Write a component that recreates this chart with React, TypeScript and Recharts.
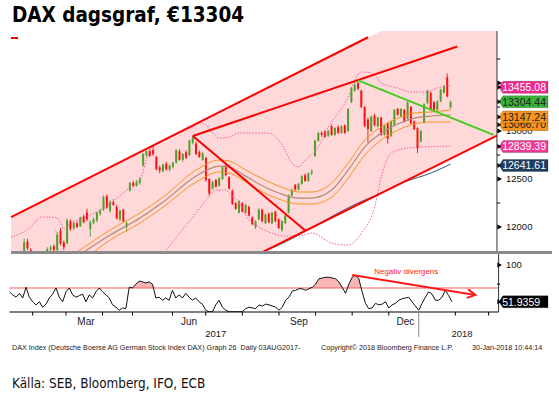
import React from 'react';
import { ComposedChart, Bar, Line, Area, XAxis, YAxis, ReferenceLine } from 'recharts';

// one slot = two trading days, 148 slots across the plot (data fills the first 134)
const SLOTS = 148;
const Y_MIN = 11740;
const Y_MAX = 14042;
const RSI_MIN = 38.7;
const RSI_MAX = 114.3;

// [open, high, low, close] per slot, Jan 2017 -> 30 Jan 2018
const candles: [number, number, number, number][] = [
  [11590, 11620, 11560, 11600], [11600, 11640, 11570, 11620], [11620, 11660, 11580, 11600], [11600, 11700, 11590, 11690],
  [11720, 11880, 11700, 11840], [11850, 11880, 11760, 11780], [11760, 11780, 11680, 11700], [11700, 11720, 11640, 11660],
  [11660, 11700, 11600, 11680], [11680, 11730, 11650, 11710], [11710, 11740, 11670, 11700], [11700, 11790, 11690, 11770],
  [11770, 11810, 11740, 11790], [11800, 11820, 11740, 11760], [11760, 11950, 11750, 11920], [11960, 11990, 11810, 11830],
  [11840, 11860, 11760, 11790], [11830, 12090, 11820, 12070], [12060, 12080, 11960, 11980], [11990, 12060, 11970, 12040],
  [12040, 12060, 11990, 12000], [12010, 12110, 12000, 12100], [12110, 12130, 12040, 12050], [12150, 12190, 12060, 12080],
  [11980, 12070, 11900, 12050], [12040, 12100, 12030, 12080], [12070, 12160, 12050, 12150], [12140, 12190, 12120, 12170],
  [12180, 12330, 12170, 12310], [12320, 12340, 12190, 12200], [12170, 12280, 12150, 12260], [12260, 12290, 12220, 12230],
  [12210, 12230, 12080, 12090], [12080, 12180, 12060, 12170], [12180, 12190, 12050, 12060], [12000, 12060, 11950, 12040],
  [12380, 12470, 12370, 12460], [12460, 12480, 12420, 12430], [12430, 12490, 12420, 12470], [12460, 12520, 12440, 12500],
  [12640, 12770, 12630, 12760], [12750, 12800, 12730, 12790], [12790, 12810, 12730, 12740], [12800, 12850, 12740, 12760],
  [12730, 12740, 12590, 12600], [12620, 12640, 12560, 12590], [12580, 12660, 12570, 12650], [12660, 12680, 12590, 12600],
  [12600, 12650, 12580, 12640], [12630, 12680, 12610, 12670], [12670, 12810, 12660, 12800], [12790, 12810, 12690, 12700],
  [12700, 12770, 12680, 12760], [12780, 12800, 12710, 12720], [12750, 12910, 12740, 12900], [12880, 12950, 12860, 12930],
  [12870, 12890, 12750, 12760], [12780, 12800, 12720, 12730], [12700, 12780, 12690, 12770], [12720, 12730, 12470, 12490],
  [12500, 12510, 12320, 12350], [12400, 12480, 12390, 12470], [12490, 12500, 12410, 12420], [12430, 12520, 12420, 12510],
  [12500, 12630, 12490, 12620], [12640, 12660, 12530, 12540], [12520, 12530, 12390, 12400], [12380, 12390, 12230, 12240],
  [12250, 12260, 12180, 12190], [12150, 12280, 12140, 12270], [12250, 12260, 12150, 12160], [12150, 12240, 12140, 12230],
  [12210, 12220, 12110, 12120], [12100, 12110, 12020, 12030], [12000, 12070, 11980, 12060], [12080, 12200, 12070, 12180],
  [12180, 12190, 12050, 12060], [12040, 12140, 12030, 12130], [12140, 12150, 12040, 12050], [12040, 12160, 12030, 12150],
  [12160, 12170, 12050, 12060], [12080, 12090, 11980, 11990], [11970, 12070, 11950, 12060], [12040, 12130, 12030, 12120],
  [12150, 12340, 12140, 12330], [12330, 12400, 12320, 12390], [12440, 12450, 12380, 12390], [12390, 12460, 12380, 12450],
  [12450, 12540, 12440, 12530], [12540, 12560, 12470, 12480], [12480, 12570, 12470, 12560], [12560, 12600, 12540, 12580],
  [12740, 12910, 12730, 12900], [12900, 12990, 12890, 12980], [12980, 13000, 12940, 12960], [12990, 13010, 12930, 12940],
  [12950, 13010, 12940, 13000], [13050, 13070, 12950, 12960], [12960, 13040, 12950, 13030], [13040, 13060, 12970, 12980],
  [12980, 13060, 12970, 13050], [13060, 13070, 12970, 12980], [13000, 13240, 12990, 13230], [13300, 13460, 13290, 13450],
  [13420, 13510, 13410, 13480], [13500, 13530, 13430, 13440], [13420, 13430, 13240, 13250], [13250, 13260, 13040, 13050],
  [13120, 13140, 12880, 13020], [13000, 13160, 12990, 13150], [13160, 13180, 13050, 13060], [13050, 13150, 13040, 13140],
  [13140, 13150, 12950, 12960], [12960, 13070, 12950, 13060], [13080, 13090, 12870, 12920], [12950, 13110, 12940, 13100],
  [13060, 13230, 13050, 13220], [13230, 13240, 13160, 13170], [13150, 13240, 13140, 13230], [13220, 13230, 13090, 13100],
  [13130, 13310, 13120, 13300], [13250, 13260, 13070, 13080], [13100, 13110, 13010, 13020], [13030, 13040, 12770, 12820],
  [12890, 13010, 12880, 13000], [13090, 13290, 13080, 13280], [13290, 13430, 13280, 13420], [13400, 13410, 13220, 13230],
  [13300, 13310, 13210, 13220], [13220, 13320, 13210, 13310], [13310, 13440, 13300, 13430], [13400, 13480, 13390, 13470],
  [13560, 13600, 13350, 13360], [13250, 13320, 13230, 13300],
];

// [slot, value] pairs
const maUpper: [number, number][] = [[20, 11740], [30, 11969], [39, 12146], [46, 12312], [56, 12594], [63, 12698], [66, 12687], [71, 12594], [75, 12521], [81, 12427], [87, 12365], [91, 12365], [97, 12458], [102, 12667], [107, 12906], [112, 13042], [117, 13135], [122, 13188], [127, 13198], [133, 13219]];
const maMid: [number, number][] = [[22, 11740], [30, 11917], [39, 12094], [46, 12260], [56, 12531], [63, 12635], [66, 12625], [71, 12531], [75, 12448], [81, 12354], [87, 12302], [91, 12302], [97, 12385], [102, 12594], [107, 12833], [112, 12979], [117, 13073], [122, 13135], [127, 13156], [133, 13167]];
const maLower: [number, number][] = [[25, 11740], [30, 11865], [39, 12042], [46, 12208], [56, 12469], [63, 12573], [66, 12562], [71, 12469], [75, 12385], [81, 12292], [87, 12240], [91, 12240], [97, 12312], [102, 12510], [107, 12750], [112, 12906], [117, 13010], [122, 13073], [127, 13094], [133, 13094]];
const bollUpper: [number, number][] = [[0, 11896], [6, 12000], [9, 12104], [12, 12104], [14, 12094], [15, 12042], [16, 11979], [17, 12010], [20, 12073], [24, 12125], [28, 12198], [32, 12302], [35, 12385], [39, 12490], [42, 12802], [46, 12906], [51, 12979], [55, 13042], [57, 13083], [59, 13063], [61, 12979], [63, 12927], [66, 12937], [69, 12979], [75, 12979], [78, 12979], [82, 12854], [85, 12667], [87, 12625], [89, 12698], [93, 12833], [96, 13042], [99, 13188], [102, 13354], [104, 13531], [106, 13615], [109, 13604], [112, 13500], [117, 13448], [121, 13406], [125, 13406], [130, 13458], [133, 13469]];
const bollLower: [number, number][] = [[47, 11760], [51, 11937], [56, 12146], [59, 12281], [62, 12385], [65, 12385], [66, 12354], [69, 12250], [72, 12073], [75, 12000], [78, 11948], [83, 11906], [87, 11906], [91, 11937], [97, 11833], [102, 11812], [106, 11937], [110, 12208], [112, 12521], [115, 12771], [120, 12823], [124, 12833], [133, 12844]];
const ma200: [number, number][] = [[72, 11698], [76, 11740], [81, 11812], [87, 11917], [93, 12031], [99, 12146], [105, 12250], [112, 12354], [119, 12469], [127, 12562], [133, 12656]];

// hand-drawn trend lines: two [slot, value] end points each
const trendOuter: [number, number][] = [[0, 12104], [108, 13977]];
const trendInner: [number, number][] = [[55, 12948], [135, 13881]];
const trendDown: [number, number][] = [[55, 12948], [89, 11963]];
const trendLower: [number, number][] = [[0, 10438], [147, 12953]];
const trendGreen: [number, number][] = [[105, 13527], [146, 12960]];
// shaded channel: [slot, lower, upper]
const channelFill: [number, number, number][] = [[0, 10438, 12104], [147, 12953, 14650]];

const rsi: number[] = [
  65, 61, 58, 63, 57, 71, 58, 52, 48, 52, 45, 49, 57, 62, 70, 58, 52, 65, 70, 61,
  58, 60, 62, 52, 61, 57, 65, 70, 65, 61, 57, 48, 45, 41, 44, 43, 71, 70, 75, 79,
  78, 76.5, 78, 75, 57, 58, 54, 57, 54, 67, 57, 61, 57, 63, 58, 54, 57, 52, 49, 41,
  39, 39, 48, 54, 45, 41, 39, 39, 39, 39, 39, 43, 45, 44, 43, 48, 46.5, 49, 48, 46.5,
  45, 41, 45, 54, 58, 66, 67, 69, 69, 67, 69, 71, 75, 82, 83, 84, 84, 83, 82, 78,
  71, 63, 75, 84, 87, 82, 65, 50, 43, 44, 50, 48, 49, 52, 44, 48, 50, 54, 56, 57,
  58, 52, 46.5, 41, 50, 58, 65, 62, 54, 54, 58, 67, 60, 52,
];
const rsiLast = 51.9359;
const divergence: [number, number][] = [[103, 87], [140, 61]];

// labelled price ticks; 13500 sits under the top flag, so it only gets its marker
const priceLabelled = [12000, 12500, 13000];
const priceMarked = [13500];
const priceMinor = [12250, 12750, 13250, 13750];
const priceFlags = [
  { value: 12641.61, fill: '#1f3d5e', text: '#ffffff' },
  { value: 12839.39, fill: '#ef3b93', text: '#ffffff' },
  { value: 13066.7, fill: '#f7941d', text: '#1a1a1a' },
  { value: 13147.24, fill: '#f7941d', text: '#1a1a1a' },
  { value: 13304.44, fill: '#3cb43c', text: '#1a1a1a' },
  { value: 13455.08, fill: '#ee2a8c', text: '#ffffff' },
];

const monthStarts = [7, 17, 28, 37, 49, 59, 70, 81, 92, 103, 114, 134, 144];
const yearBreak = 123;
const monthLabels: [number, string][] = [[23, 'Mar'], [54, 'Jun'], [87, 'Sep'], [119, 'Dec']];
const yearLabels: [number, string][] = [[62, '2017'], [136, '2018']];

const rows: Record<string, any>[] = Array.from({ length: SLOTS }, (_, i) => ({ i }));
candles.forEach(([o, h, l, c], i) => Object.assign(rows[i], { o, h, l, c, hl: [l, h] }));
rsi.forEach((v, i) => { rows[i].rsi = v; });
const put = (key: string, pts: [number, number][]) => pts.forEach(([s, v]) => { rows[s][key] = v; });
put('maUpper', maUpper);
put('maMid', maMid);
put('maLower', maLower);
put('bollUpper', bollUpper);
put('bollLower', bollLower);
put('ma200', ma200);
channelFill.forEach(([s, lo, hi]) => { rows[s].band = [lo, hi]; });

const seg = (pts: [number, number][]) => pts.map(([x, y]) => ({ x, y }));

const LEFT = 9.4;
const AXIS_W = 60.4;
const RSI_TOP = 2;
const RSI_H = 90;
const RSI_PLOT_H = 58;
const rsi70 = RSI_TOP + ((RSI_MAX - 70) / (RSI_MAX - RSI_MIN)) * RSI_PLOT_H;

function Candle(props: any) {
  const { x, y, width, height, payload } = props;
  if (payload == null || payload.o == null) return null;
  const { o, h, l, c } = payload;
  const top = height >= 0 ? y : y + height;
  const span = Math.abs(height);
  const py = (v: number) => top + ((h - v) / (h - l)) * span;
  const color = c >= o ? '#4e9f2c' : '#ff1010';
  const b1 = py(Math.max(o, c));
  const b2 = py(Math.min(o, c));
  const cx = x + width / 2;
  return (
    <g>
      <line x1={cx} x2={cx} y1={top} y2={top + span} stroke={color} strokeWidth={0.9} />
      <rect x={x} y={b1} width={width} height={Math.max(1, b2 - b1)} fill={color} />
    </g>
  );
}

function Flag({ x, y, fill, color, label }: any) {
  return (
    <g>
      <path
        d={`M${x + 0.4},${y} L${x + 4.4},${y - 6} L${x + 49.4},${y - 6} L${x + 49.4},${y + 6} L${x + 4.4},${y + 6} Z`}
        fill={fill}
        stroke="rgba(0,0,0,0.35)"
        strokeWidth={0.6}
      />
      <path d={`M${x - 1.2},${y - 2.5} L${x + 2.6},${y} L${x - 1.2},${y + 2.5} Z`} fill="#000" />
      <text x={x + 3.6} y={y + 3.8} fontSize={10.5} fill={color}>{label}</text>
    </g>
  );
}

const Marker = ({ x, y }: any) => (
  <path d={`M${x - 1.2},${y - 2.5} L${x + 3.4},${y} L${x - 1.2},${y + 2.5} Z`} fill="#000" />
);

function PriceTick(props: any) {
  const { x, y, payload } = props;
  const v = payload.value;
  const f = priceFlags.find((p) => p.value === v);
  if (f) return <Flag x={x} y={y} fill={f.fill} color={f.text} label={v.toFixed(2)} />;
  if (priceLabelled.includes(v)) {
    return (
      <g>
        <Marker x={x} y={y} />
        <text x={x + 7.4} y={y + 3.4} fontSize={9.5} fill="#111">{v}</text>
      </g>
    );
  }
  if (priceMarked.includes(v)) return <Marker x={x} y={y} />;
  return <line x1={x - 1.6} x2={x + 1.6} y1={y} y2={y} stroke="#000" />;
}

function RsiTick(props: any) {
  const { x, y, payload } = props;
  const v = payload.value;
  if (v === rsiLast) return <Flag x={x} y={y} fill="#000" color="#fff" label={String(rsiLast)} />;
  if (v === 100) {
    return (
      <g>
        <Marker x={x} y={y} />
        <text x={x + 7.4} y={y + 3.4} fontSize={9.5} fill="#111">100</text>
      </g>
    );
  }
  return <line x1={x - 1.6} x2={x + 1.6} y1={y} y2={y} stroke="#000" />;
}

function TimeTick(props: any) {
  const { x, y, payload } = props;
  const v = payload.value;
  if (v === yearBreak) return <line x1={x} x2={x} y1={y} y2={y + 25} stroke="#888" />;
  if (monthStarts.includes(v)) return <line x1={x} x2={x} y1={y} y2={y + 3.5} stroke="#000" />;
  const m = monthLabels.find((p) => p[0] === v);
  if (m) return <text x={x} y={y + 13} fontSize={10} textAnchor="middle" fill="#1a1a2a">{m[1]}</text>;
  const yr = yearLabels.find((p) => p[0] === v);
  if (yr) return <text x={x} y={y + 24.5} fontSize={9.5} textAnchor="middle" fill="#1a1a1a">{yr[1]}</text>;
  return null;
}

function DivergenceArrow(props: any) {
  const { x1, y1, x2, y2 } = props;
  const ang = Math.atan2(y2 - y1, x2 - x1);
  const len = 9;
  const a1 = ang + Math.PI - 0.5;
  const a2 = ang + Math.PI + 0.5;
  return (
    <g>
      <line x1={x1} y1={y1} x2={x2} y2={y2} stroke="#ff1a1a" strokeWidth={2} />
      <polyline
        points={`${x2 + len * Math.cos(a1)},${y2 + len * Math.sin(a1)} ${x2},${y2} ${x2 + len * Math.cos(a2)},${y2 + len * Math.sin(a2)}`}
        fill="none"
        stroke="#ff1a1a"
        strokeWidth={2}
      />
      <text x={x1 + 22} y={y1 - 0.5} fontSize={8} fill="#ff1a1a">Negativ divergens</text>
    </g>
  );
}

const narrow = "'Liberation Sans Narrow', 'DejaVu Sans Condensed', 'Liberation Sans', sans-serif";
const footStyle: React.CSSProperties = { position: 'absolute', top: 343, fontSize: 7.2, color: '#222', whiteSpace: 'nowrap' };

export default function App() {
  const priceTicks = [...priceLabelled, ...priceMarked, ...priceMinor, ...priceFlags.map((f) => f.value)];
  const timeTicks = [...monthStarts, yearBreak, ...monthLabels.map((m) => m[0]), ...yearLabels.map((m) => m[0])];
  return (
    <div style={{ position: 'absolute', left: 0, top: 0, width: 559, height: 396, background: '#fff', fontFamily: "'Liberation Sans', Arial, sans-serif" }}>
      <div style={{ position: 'absolute', left: 12, top: 4, fontFamily: narrow, fontWeight: 700, fontSize: 20.5, lineHeight: '22px', fontStretch: 'condensed', color: '#000' }}>
        DAX dagsgraf, €13304
      </div>
      <div style={{ position: 'absolute', left: 11, top: 37, width: 7, height: 2, background: '#ff0000' }} />

      <div style={{ position: 'absolute', left: 0, top: 0 }}>
        <ComposedChart width={559} height={260} data={rows} margin={{ top: 31, right: 0, bottom: 8, left: LEFT }} barCategoryGap="16%">
          <XAxis dataKey="i" hide />
          <YAxis
            orientation="right"
            width={AXIS_W}
            domain={[Y_MIN, Y_MAX]}
            allowDataOverflow
            ticks={priceTicks}
            interval={0}
            axisLine={false}
            tickLine={false}
            tickSize={0}
            tickMargin={0}
            tick={<PriceTick />}
          />
          <Area dataKey="band" stroke="none" fill="#ffd9d9" fillOpacity={1} connectNulls isAnimationActive={false} />
          <Line dataKey="bollUpper" type="monotone" stroke="#f0609e" strokeWidth={1} strokeDasharray="1.5 1.5" dot={false} connectNulls isAnimationActive={false} />
          <Line dataKey="bollLower" type="monotone" stroke="#f0609e" strokeWidth={1} strokeDasharray="1.5 1.5" dot={false} connectNulls isAnimationActive={false} />
          <Line dataKey="maUpper" type="monotone" stroke="#f7941d" strokeWidth={1} dot={false} connectNulls isAnimationActive={false} />
          <Line dataKey="maMid" type="monotone" stroke="#b48a74" strokeWidth={1.2} dot={false} connectNulls isAnimationActive={false} />
          <Line dataKey="maLower" type="monotone" stroke="#f7941d" strokeWidth={1} dot={false} connectNulls isAnimationActive={false} />
          <Line dataKey="ma200" type="monotone" stroke="#33507a" strokeWidth={1} dot={false} connectNulls isAnimationActive={false} />
          <Bar dataKey="hl" shape={<Candle />} isAnimationActive={false} />
          <ReferenceLine segment={seg(trendOuter)} stroke="#ff0000" strokeWidth={2} ifOverflow="hidden" />
          <ReferenceLine segment={seg(trendInner)} stroke="#ff0000" strokeWidth={2} ifOverflow="hidden" />
          <ReferenceLine segment={seg(trendDown)} stroke="#ff0000" strokeWidth={2} ifOverflow="hidden" />
          <ReferenceLine segment={seg(trendLower)} stroke="#ff0000" strokeWidth={2} ifOverflow="hidden" />
          <ReferenceLine segment={seg(trendGreen)} stroke="#44cc1c" strokeWidth={2} ifOverflow="hidden" />
          <ReferenceLine x={SLOTS - 1} stroke="#333" strokeWidth={1} />
        </ComposedChart>
      </div>

      <div style={{ position: 'absolute', left: 0, top: 252 }}>
        <ComposedChart width={559} height={RSI_H} data={rows} margin={{ top: RSI_TOP, right: 0, bottom: 2, left: LEFT }}>
          <defs>
            <linearGradient id="rsiHot" x1="0" y1="0" x2="0" y2={RSI_H} gradientUnits="userSpaceOnUse">
              <stop offset={0} stopColor="#f7b5b5" />
              <stop offset={rsi70 / RSI_H} stopColor="#f7b5b5" />
              <stop offset={rsi70 / RSI_H} stopColor="#ffffff" stopOpacity={0} />
              <stop offset={1} stopColor="#ffffff" stopOpacity={0} />
            </linearGradient>
          </defs>
          <XAxis
            dataKey="i"
            height={28}
            ticks={timeTicks}
            interval={0}
            tickLine={false}
            tickSize={0}
            tickMargin={0}
            axisLine={{ stroke: '#000' }}
            tick={<TimeTick />}
          />
          <YAxis
            orientation="right"
            width={AXIS_W}
            domain={[RSI_MIN, RSI_MAX]}
            allowDataOverflow
            ticks={[100, 75, rsiLast]}
            interval={0}
            axisLine={false}
            tickLine={false}
            tickSize={0}
            tickMargin={0}
            tick={<RsiTick />}
          />
          <Area dataKey="rsi" baseValue={70} stroke="none" fill="url(#rsiHot)" fillOpacity={1} isAnimationActive={false} />
          <ReferenceLine y={70} stroke="#f06060" strokeWidth={1} />
          <Line dataKey="rsi" stroke="#111" strokeWidth={1} dot={false} isAnimationActive={false} />
          <ReferenceLine segment={seg(divergence)} shape={DivergenceArrow} ifOverflow="visible" />
          <ReferenceLine x={SLOTS - 1} stroke="#333" strokeWidth={1} />
        </ComposedChart>
      </div>

      <div style={{ position: 'absolute', left: 11, top: 251, width: 541, height: 3, background: '#8a8a8a' }} />

      <div style={{ ...footStyle, left: 12 }}>
        DAX Index (Deutsche Boerse AG German Stock Index DAX) Graph 26&nbsp; Daily 03AUG2017-
      </div>
      <div style={{ ...footStyle, left: 321 }}>Copyright© 2018 Bloomberg Finance L.P.</div>
      <div style={{ ...footStyle, left: 472 }}>30-Jan-2018 10:44:14</div>
      <div style={{ position: 'absolute', left: 12, top: 376, fontFamily: narrow, fontSize: 13.4, fontStretch: 'condensed', color: '#111', whiteSpace: 'nowrap' }}>
        Källa: SEB, Bloomberg, IFO, ECB
      </div>
    </div>
  );
}
